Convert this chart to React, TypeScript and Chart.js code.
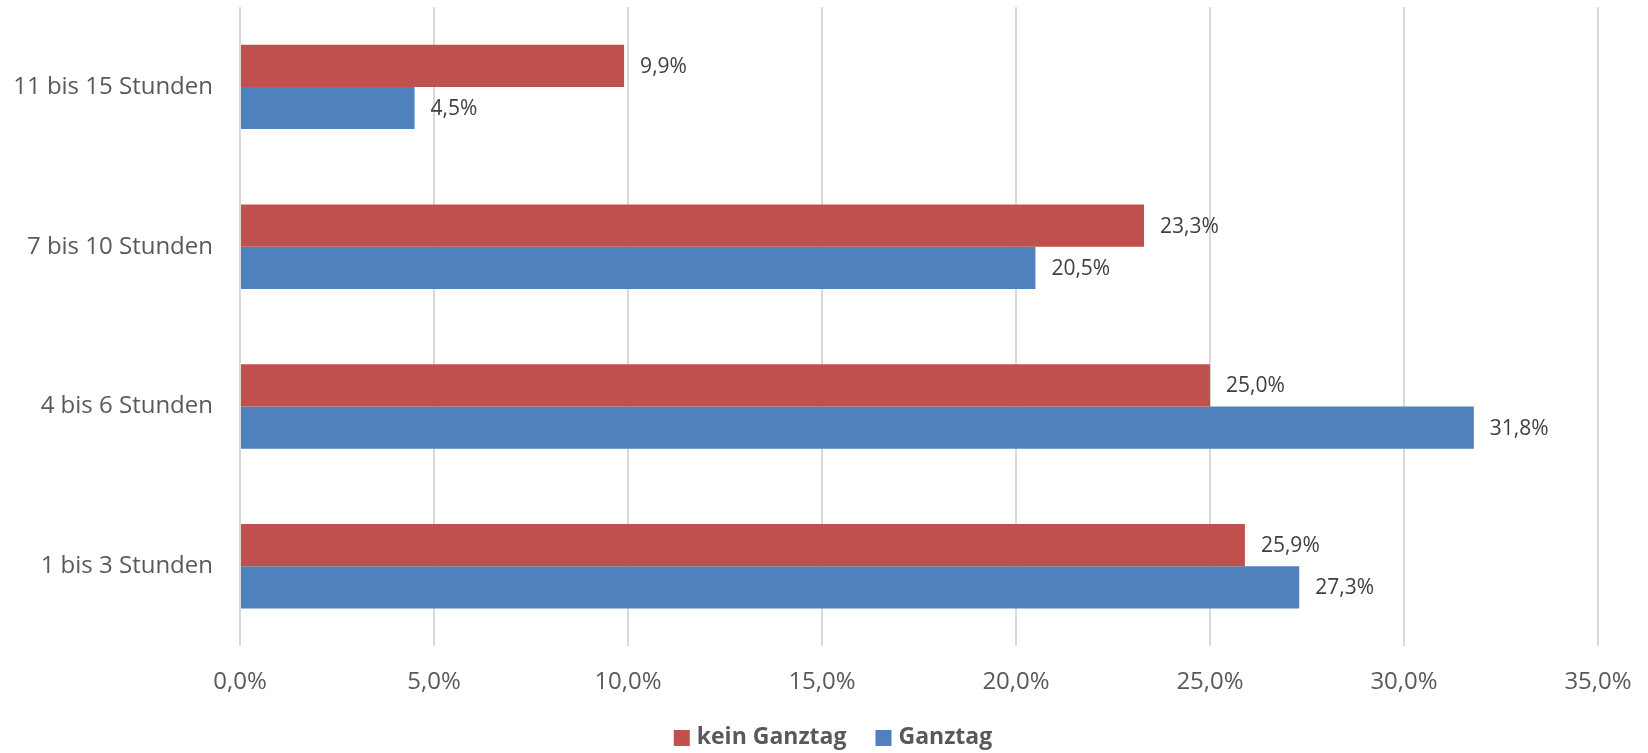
import React, { useEffect, useRef } from "react";
import { Chart, registerables } from "chart.js";

Chart.register(...registerables);

const categories = ["11 bis 15 Stunden", "7 bis 10 Stunden", "4 bis 6 Stunden", "1 bis 3 Stunden"];
const keinGanztag = [9.9, 23.3, 25.0, 25.9];
const ganztag = [4.5, 20.5, 31.8, 27.3];
const seriesNames = ["kein Ganztag", "Ganztag"];
const seriesColors = ["#C0504D", "#4F81BD"];
const xMin = 0;
const xMax = 35;
const xStep = 5;

const FONT = "'Open Sans', 'Noto Sans', sans-serif";
const fmt = (v: number) => v.toFixed(1).replace(".", ",") + "%";

const dataLabelPlugin = {
  id: "dataLabels",
  afterDatasetsDraw(chart: any) {
    const ctx = chart.ctx;
    ctx.save();
    ctx.font = `21px ${FONT}`;
    ctx.fillStyle = "#404040";
    ctx.textAlign = "left";
    ctx.textBaseline = "middle";
    chart.data.datasets.forEach((ds: any, di: number) => {
      const meta = chart.getDatasetMeta(di);
      meta.data.forEach((bar: any, i: number) => {
        ctx.fillText(fmt(ds.data[i]), bar.x + 16, bar.y + 1);
      });
    });
    ctx.restore();
  },
};

const legendPlugin = {
  id: "customLegend",
  afterDraw(chart: any) {
    const ctx = chart.ctx;
    ctx.save();
    ctx.font = `bold 23px ${FONT}`;
    const box = 16;
    const gapBoxText = 7;
    const gapItems = 29;
    const items = chart.data.datasets.map((ds: any) => ({
      label: ds.label,
      color: ds.backgroundColor,
      w: ctx.measureText(ds.label).width,
    }));
    const total = items.reduce((s: number, it: any) => s + box + gapBoxText + it.w, 0) + gapItems * (items.length - 1);
    let x = chart.width / 2 + 9 - total / 2;
    const cy = 738;
    ctx.textBaseline = "middle";
    ctx.textAlign = "left";
    items.forEach((it: any) => {
      ctx.fillStyle = it.color;
      ctx.fillRect(x, cy - box / 2, box, box);
      x += box + gapBoxText;
      ctx.fillStyle = "#595959";
      ctx.fillText(it.label, x, cy - 1);
      x += it.w + gapItems;
    });
    ctx.restore();
  },
};

export default function App() {
  const ref = useRef<HTMLCanvasElement | null>(null);
  useEffect(() => {
    document.body.style.margin = "0";
    const canvas = ref.current!;
    const chart = new Chart(canvas, {
      type: "bar",
      data: {
        labels: categories,
        datasets: [
          { label: seriesNames[0], data: keinGanztag, backgroundColor: seriesColors[0] },
          { label: seriesNames[1], data: ganztag, backgroundColor: seriesColors[1] },
        ],
      },
      options: {
        indexAxis: "y",
        responsive: false,
        animation: false,
        maintainAspectRatio: false,
        datasets: { bar: { categoryPercentage: 0.528, barPercentage: 1 } },
        layout: { padding: { top: 7, bottom: 34, left: 0, right: 50 } },
        plugins: {
          legend: { display: false },
          tooltip: { enabled: false },
        },
        scales: {
          x: {
            min: xMin,
            max: xMax,
            border: { display: false },
            grid: { color: "#D9D9D9", lineWidth: 2, drawTicks: false },
            ticks: {
              stepSize: xStep,
              padding: 22,
              color: "#595959",
              font: { family: FONT, size: 24 },
              callback: (v: any) => fmt(Number(v)),
            },
            afterFit: (scale: any) => {
              scale.paddingLeft = 0;
              scale.paddingRight = 0;
            },
          },
          y: {
            border: { display: false },
            grid: { display: false, drawTicks: false },
            ticks: {
              padding: 27,
              color: "#595959",
              font: { family: FONT, size: 24 },
            },
            afterFit: (scale: any) => {
              scale.width = 240;
              scale.paddingTop = 0;
              scale.paddingBottom = 0;
            },
          },
        },
      },
      plugins: [dataLabelPlugin, legendPlugin],
    });
    return () => chart.destroy();
  }, []);
  return <canvas ref={ref} width={1648} height={753} style={{ display: "block", width: 1648, height: 753 }} />;
}
